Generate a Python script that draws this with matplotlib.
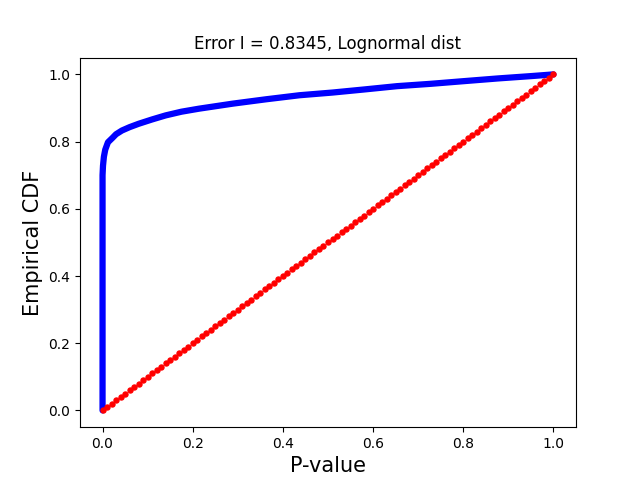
import numpy as np
from matplotlib import pyplot as plt

# empirical CDF of p-values
p_values = [0.0, 0.0, 0.001, 0.003, 0.006, 0.012, 0.022, 0.030, 0.043, 0.060,
            0.080, 0.110, 0.140, 0.175, 0.214, 0.289, 0.363, 0.437, 0.510,
            0.579, 0.653, 0.728, 0.802, 0.877, 0.951, 1.0]
ecdf = [0.0, 0.70, 0.728, 0.755, 0.776, 0.798, 0.811, 0.822, 0.833, 0.843,
        0.853, 0.866, 0.878, 0.889, 0.898, 0.913, 0.926, 0.938, 0.946,
        0.955, 0.965, 0.972, 0.980, 0.988, 0.995, 1.0]

# uniform reference line (101 points, step 0.01)
uniform = np.linspace(0, 1, 101)

title = "Error I = 0.8345, Lognormal dist"

fig, ax = plt.subplots(figsize=(6.4, 4.8), dpi=100)
ax.plot(p_values, ecdf, color='blue', linewidth=4.5,
        solid_capstyle='round', solid_joinstyle='round')
ax.plot(uniform, uniform, 'o', color='red', markersize=3.6)

ax.set_title(title)
ax.set_xlabel("P-value", fontsize=15)
ax.set_ylabel("Empirical CDF", fontsize=15)

fig.savefig("out.png")
